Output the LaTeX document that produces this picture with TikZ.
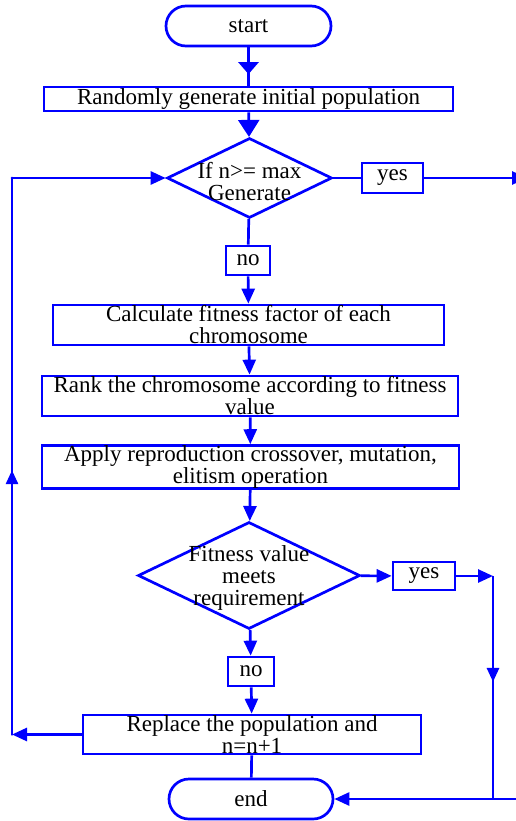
\documentclass[tikz,border=0pt]{standalone}
\usepackage{fontspec}
\setmainfont{Liberation Serif}
\usetikzlibrary{shapes.geometric,arrows.meta,decorations.markings}
\tikzset{
  txt/.style={font=\fontsize{23}{22}\selectfont, text=black},
  box/.style={draw=blue, line width=2.7pt, rectangle, inner sep=0pt, align=center, txt},
  term/.style={box, rounded corners=20pt},
  dia/.style={draw=blue, line width=2.7pt, diamond, inner sep=0pt},
  lbl/.style={inner sep=0pt, align=center, txt},
  conn/.style={draw=blue, line width=2.7pt},
  arr/.style={conn, -{Triangle[length=15pt,width=13pt]}},
  bigarr/.style={conn, -{Triangle[length=17pt,width=21pt]}},
  midarr/.style={conn, postaction={decorate}, decoration={markings, mark=at position #1 with {\arrow{Triangle[length=14pt,width=12pt]}}}},
  startarr/.style={conn, postaction={decorate}, decoration={markings, mark=at position #1 with {\arrow{Triangle[length=12pt,width=20pt]}}}}
}
\begin{document}
\begin{tikzpicture}[x=1pt,y=-1pt]
\useasboundingbox (0,0) rectangle (515,821);
\node[term, minimum width=165pt, minimum height=40pt] (start) at (248.5,26) {start};
\node[box, minimum width=409pt, minimum height=24pt] (init) at (248.5,99) {Randomly generate initial population};
\node[dia, minimum width=165pt, minimum height=80pt] (d1) at (249.5,178) {};
\node[lbl] (d1t) at (249.5,182) {If n>= max\\Generate};
\node[box, minimum width=61pt, minimum height=30pt] (yes1) at (392.5,178) {yes};
\coordinate (out1) at (527,178);
\node[box, minimum width=44pt, minimum height=29pt] (no1) at (248,260.5) {no};
\node[box, minimum width=391pt, minimum height=40pt] (calc) at (248.5,325) {Calculate fitness factor of each\\chromosome};
\node[box, minimum width=416pt, minimum height=40pt] (rank) at (250,396) {Rank the chromosome according to fitness\\value};
\node[box, minimum width=417pt, minimum height=40pt] (apply) at (250.5,467) {Apply reproduction crossover, mutation,\\elitism operation};
\node[dia, minimum width=222pt, minimum height=107pt] (d2) at (249,575.5) {};
\node[lbl] (d2t) at (249,578) {Fitness value\\meets\\requirement};
\node[box, minimum width=62pt, minimum height=28pt] (yes2) at (424,576) {yes};
\node[box, minimum width=46pt, minimum height=29pt] (no2) at (251,671.5) {no};
\node[box, minimum width=338pt, minimum height=39pt] (repl) at (252,734.5) {Replace the population and\\n=n+1};
\node[term, minimum width=164pt, minimum height=40pt] (end) at (251,799) {end};
\coordinate (r1) at (493,576);
\coordinate (r2) at (493,799);
\coordinate (r3) at (525,799);
\coordinate (l1) at (12,734.5);
\coordinate (l2) at (12,178);
\draw[startarr=0.7] (start) -- (init);
\draw[bigarr] (init) -- (d1);
\draw[conn] (d1) -- (yes1);
\draw[arr] (yes1) -- (out1);
\draw[conn] (d1) -- (no1);
\draw[arr] (no1) -- (calc);
\draw[arr] (calc) -- (rank);
\draw[arr] (rank) -- (apply);
\draw[arr] (apply) -- (d2);
\draw[arr] (d2) -- (yes2);
\draw[arr] (yes2) -- (r1);
\draw[midarr=0.475] (r1) -- (r2);
\draw[arr] (r3) -- (end);
\draw[arr] (d2) -- (no2);
\draw[arr] (no2) -- (repl);
\draw[conn] (repl) -- (end);
\draw[arr] (repl) -- (l1);
\draw[midarr=0.475, line cap=round] (l1) -- (l2);
\draw[arr, line cap=round] (l2) -- (d1);
\end{tikzpicture}
\end{document}
